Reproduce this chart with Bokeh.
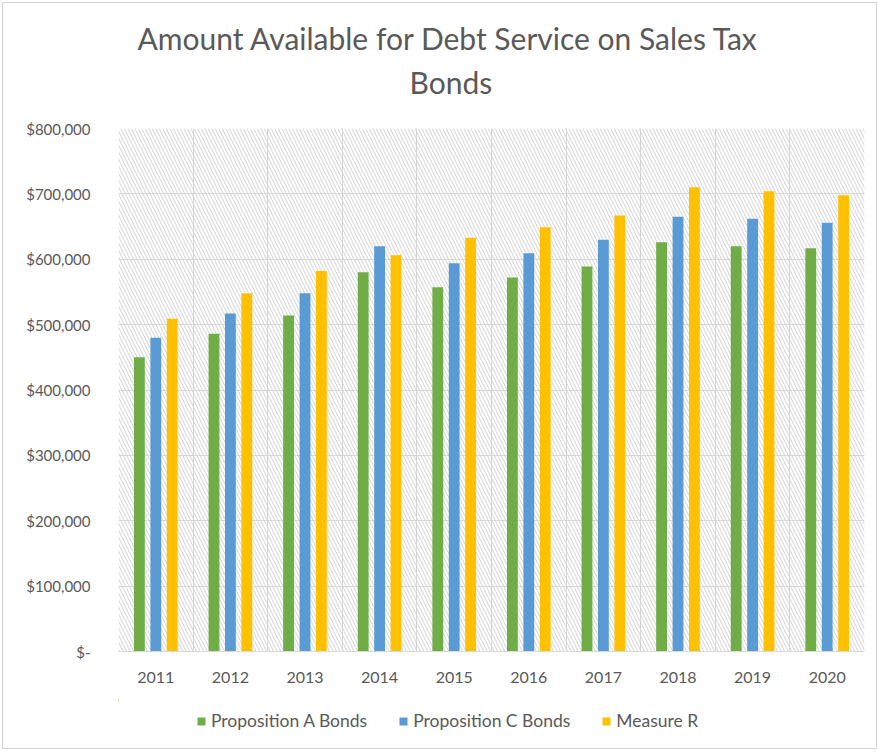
from bokeh.plotting import figure
from bokeh.layouts import column
from bokeh.models import (Range1d, FixedTicker, NumeralTickFormatter, Legend, LegendItem,
                          BoxAnnotation, Title, ColumnDataSource)
from bokeh.transform import dodge
from bokeh.embed import file_html
from bokeh.resources import INLINE

years = ["2011", "2012", "2013", "2014", "2015", "2016", "2017", "2018", "2019", "2020"]
prop_a = [450000, 486000, 514000, 580000, 557000, 572000, 589000, 626000, 620000, 617000]
prop_c = [480000, 517000, 548000, 620000, 594000, 609000, 630000, 665000, 662000, 656000]
measure_r = [509000, 548000, 582000, 606000, 633000, 649000, 667000, 710000, 704000, 698000]
series_names = ["Proposition A Bonds", "Proposition C Bonds", "Measure R"]
colors = ["#70AD47", "#5B9BD5", "#FFC000"]
y_ticks = [0, 100000, 200000, 300000, 400000, 500000, 600000, 700000, 800000]

xpos = [i + 0.5 for i in range(len(years))]
src = ColumnDataSource(dict(x=xpos, year=years, a=prop_a, c=prop_c, r=measure_r))

FONT = "Lato"
GRAY = "#595959"

p = figure(frame_width=746, frame_height=523, output_backend="svg", toolbar_location=None,
           x_range=Range1d(0, len(years)), y_range=Range1d(0, 800000),
           min_border_left=115, min_border_right=12, min_border_top=125, min_border_bottom=49)

p.add_layout(Title(text=" ", text_font=FONT, text_font_size="4px", standoff=16), "above")
p.add_layout(Title(text="Bonds", align="left", offset=291, text_font=FONT, text_font_size="30px",
                   text_color=GRAY, text_font_style="normal", standoff=12), "above")
p.add_layout(Title(text="Amount Available for Debt Service on Sales Tax", align="left", offset=19,
                   text_font=FONT, text_font_size="30px", text_color=GRAY,
                   text_font_style="normal", standoff=0), "above")

hatch = BoxAnnotation(left=0, right=len(years), bottom=0, top=800000,
                      fill_color=None, line_color=None, hatch_pattern="\\",
                      hatch_color="#d2d2d2", hatch_scale=7, hatch_weight=1, level="underlay")
p.add_layout(hatch)

w = 0.145
off = 0.22
fields = ["a", "c", "r"]
for field, d, col in zip(fields, [-off, 0, off], colors):
    p.vbar(x=dodge("x", d), top=field, width=w, source=src, fill_color=col, line_color=None)

p.xaxis.ticker = FixedTicker(ticks=xpos)
p.xaxis.major_label_overrides = {x: y for x, y in zip(xpos, years)}
p.xaxis.major_tick_line_color = None
p.xaxis.minor_tick_line_color = None
p.xaxis.axis_line_color = "#d9d9d9"
p.xaxis.major_label_text_font = FONT
p.xaxis.major_label_text_font_size = "16px"
p.xaxis.major_label_text_color = GRAY
p.xaxis.major_label_standoff = 14

p.yaxis.ticker = FixedTicker(ticks=y_ticks)
p.yaxis.formatter = NumeralTickFormatter(format="$0,0")
p.yaxis.major_label_overrides = {0: "$-"}
p.yaxis.major_tick_line_color = None
p.yaxis.minor_tick_line_color = None
p.yaxis.axis_line_color = None
p.yaxis.major_label_text_font = FONT
p.yaxis.major_label_text_font_size = "15px"
p.yaxis.major_label_text_color = GRAY
p.yaxis.major_label_standoff = 22

p.xgrid.ticker = FixedTicker(ticks=list(range(len(years) + 1)))
p.ygrid.ticker = FixedTicker(ticks=y_ticks)
p.xgrid.grid_line_color = "#d9d9d9"
p.ygrid.grid_line_color = "#d9d9d9"
p.outline_line_color = None

# legend strip below the chart (its ranges keep the bars themselves out of view)
pl = figure(width=873, height=48, output_backend="svg", toolbar_location=None,
            x_range=Range1d(100, 200), y_range=Range1d(-3000000, -2000000),
            x_axis_type=None, y_axis_type=None,
            min_border=0, min_border_left=0, min_border_right=0, min_border_top=0,
            min_border_bottom=0)
pl.outline_line_color = None
leg_rs = []
for field, col in zip(fields, colors):
    leg_rs.append(pl.vbar(x="x", top=field, width=w, source=src, fill_color=col, line_color=None))
legend = Legend(items=[LegendItem(label=n, renderers=[r]) for n, r in zip(series_names, leg_rs)],
                orientation="horizontal", location=(78, 17), glyph_width=10, glyph_height=10,
                label_text_font=FONT, label_text_font_size="17.5px", label_text_color=GRAY,
                border_line_color=None, background_fill_alpha=0, spacing=31, padding=4,
                margin=0, label_standoff=5)
pl.add_layout(legend, "center")

layout = column(p, pl, spacing=0, styles={"border": "1px solid #d4d4d4", "margin": "2px"})

open("out.html", "w").write(file_html(layout, INLINE))
